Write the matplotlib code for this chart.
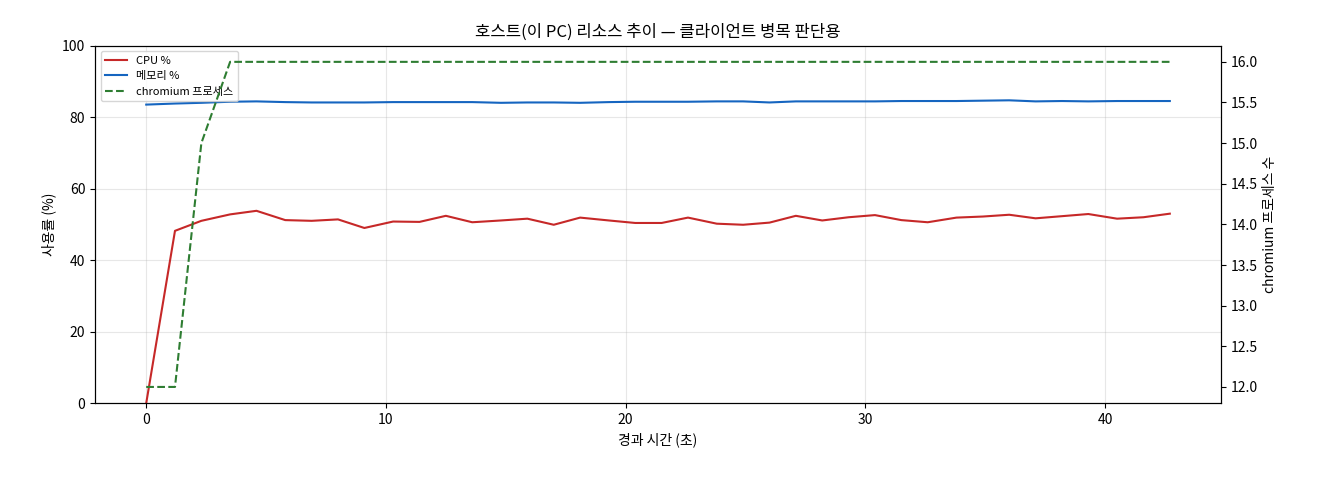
import matplotlib
matplotlib.use("Agg")
import matplotlib.pyplot as plt
plt.rcParams['font.family'] = ['Noto Sans CJK KR', 'DejaVu Sans']

t = [0.0,1.2,2.3,3.5,4.6,5.8,6.9,8.0,9.1,10.3,11.4,12.5,13.6,14.8,15.9,17.0,18.1,19.3,20.4,21.5,
     22.6,23.8,24.9,26.0,27.1,28.2,29.3,30.4,31.5,32.6,33.8,34.9,36.0,37.1,38.2,39.3,40.5,41.6,42.7]
cpu = [0,48.2,51.0,52.8,53.8,51.2,51.0,51.4,49.0,50.8,50.7,52.4,50.6,51.1,51.6,49.9,51.9,51.1,50.4,50.4,
       51.9,50.2,49.9,50.5,52.4,51.1,52.0,52.6,51.2,50.6,51.9,52.2,52.7,51.7,52.3,52.9,51.6,52.0,53.0]
mem = [83.5,83.8,84.0,84.3,84.4,84.2,84.1,84.1,84.1,84.2,84.2,84.2,84.2,84.0,84.1,84.1,84.0,84.2,84.3,84.3,
       84.3,84.4,84.4,84.1,84.4,84.4,84.4,84.4,84.5,84.5,84.5,84.6,84.7,84.4,84.5,84.4,84.5,84.5,84.5]
chrom = [12,12,15,16,16,16,16,16,16,16,16,16,16,16,16,16,16,16,16,16,
         16,16,16,16,16,16,16,16,16,16,16,16,16,16,16,16,16,16,16]

fig, ax = plt.subplots(figsize=(13.2, 4.8), dpi=100)
fig.subplots_adjust(left=0.072, right=0.925, top=0.905, bottom=0.16)
l1, = ax.plot(t, cpu, color='#c62828', lw=1.5, label='CPU %')
l2, = ax.plot(t, mem, color='#1565c0', lw=1.5, label='메모리 %')
ax.set_ylim(0, 100)
ax.set_ylabel('사용률 (%)')
ax.set_xlabel('경과 시간 (초)')
ax.grid(True, alpha=0.3)
ax2 = ax.twinx()
l3, = ax2.plot(t, chrom, color='#2e7d32', lw=1.5, ls='--', label='chromium 프로세스')
ax2.set_ylabel('chromium 프로세스 수')
ax.set_title('호스트(이 PC) 리소스 추이 — 클라이언트 병목 판단용')
ax.legend(handles=[l1, l2, l3], loc='upper left', fontsize=8)
fig.savefig('out.png')
